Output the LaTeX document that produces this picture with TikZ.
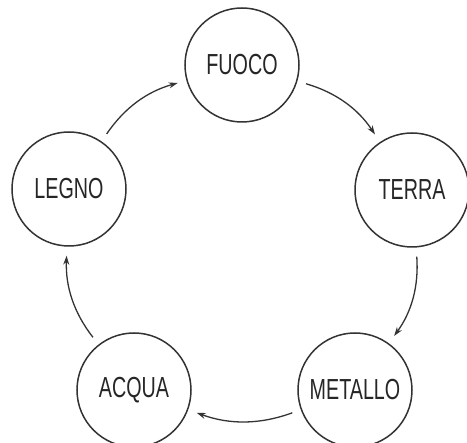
\documentclass[tikz,border=0pt]{standalone}
\usepackage{fontspec}
\setmainfont[FakeStretch=0.68]{Liberation Sans}
\usetikzlibrary{arrows.meta}
\begin{document}
\begin{tikzpicture}[x=1pt,y=-1pt,
  elem/.style={circle,draw=black!80,line width=1.5pt,minimum size=114pt,inner sep=0pt,text=black!85,font=\fontsize{29}{29}\selectfont},
  flow/.style={draw=black!80,line width=1.3pt,-{Stealth[length=9pt,width=6pt]},shorten <=9pt,shorten >=9pt}]
\useasboundingbox (0,0) rectangle (467,443);
\node[elem] (F) at (242,65) {FUOCO};
\node[elem] (T) at (412,190) {TERRA};
\node[elem] (M) at (355,390) {METALLO};
\node[elem] (A) at (134,390) {ACQUA};
\node[elem] (L) at (69,189) {LEGNO};
\draw[flow] (F) to[bend left=20] (T);
\draw[flow] (T) to[bend left=20] (M);
\draw[flow] (M) to[bend left=20] (A);
\draw[flow] (A) to[bend left=20] (L);
\draw[flow] (L) to[bend left=20] (F);
\end{tikzpicture}
\end{document}
